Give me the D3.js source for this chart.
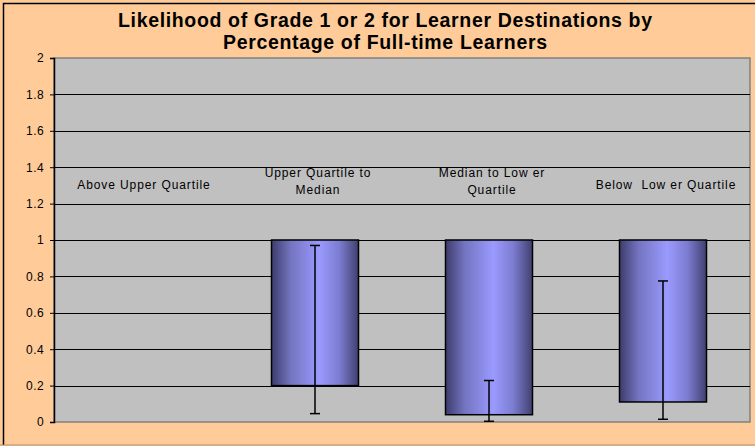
<!DOCTYPE html>
<html>
<head>
<meta charset="utf-8">
<script src="https://cdn.jsdelivr.net/npm/d3@7"></script>
<style>
  body { margin: 0; background: #fff; }
  svg { display: block; font-family: "Liberation Sans", Arial, sans-serif; }
</style>
</head>
<body>
<div id="chart"></div>
<script>
// chart values
var categories = ["Above Upper Quartile", "Upper Quartile to Median", "Median to Lower Quartile", "Below Lower Quartile"];
var labelLines = [["Above Upper Quartile"], ["Upper Quartile to", "Median"], ["Median to Low er", "Quartile"], ["Below  Low er Quartile"]];
var barLow = [null, 0.2, 0.04, 0.11];
var barHigh = [null, 1, 1, 1];
var errLow = [null, 0.046, 0.004, 0.015];
var errHigh = [null, 0.97, 0.228, 0.775];
var yTicks = [0, 0.2, 0.4, 0.6, 0.8, 1, 1.2, 1.4, 1.6, 1.8, 2];
var titleLines = ["Likelihood of Grade 1 or 2 for Learner Destinations by", "Percentage of Full-time Learners"];

var w = 755, h = 446;
var plotL = 54, plotR = 750, plotT = 58, plotB = 422;

var svg = d3.select("#chart").append("svg")
    .attr("width", w)
    .attr("height", h);

// background + frame
svg.append("rect")
    .attr("x", 0).attr("y", 0)
    .attr("width", w).attr("height", h)
    .attr("fill", "#ffcc99");
svg.append("path")
    .attr("d", "M3.5," + (h - 1) + "V3.5H" + w)
    .attr("fill", "none")
    .attr("stroke", "#000")
    .attr("stroke-width", 1.5);
svg.append("line")
    .attr("x1", 0).attr("x2", w)
    .attr("y1", h - 1).attr("y2", h - 1)
    .attr("stroke", "#b09070");

var x = d3.scaleBand()
    .domain(categories)
    .range([plotL, plotR])
    .paddingInner(0)
    .paddingOuter(0);

var y = d3.scaleLinear()
    .domain([0, 2])
    .range([plotB, plotT]);

// plot area
svg.append("rect")
    .attr("x", plotL).attr("y", plotT)
    .attr("width", plotR - plotL).attr("height", plotB - plotT)
    .attr("fill", "#c0c0c0")
    .attr("stroke", "#808080")
    .attr("stroke-width", 1.5);

// gridlines
svg.append("g")
    .selectAll("line")
    .data(yTicks.filter(function (d) { return d > 0 && d < 2; }))
    .enter()
    .append("line")
    .attr("x1", plotL).attr("x2", plotR)
    .attr("y1", function (d) { return Math.round(y(d)) + 0.5; })
    .attr("y2", function (d) { return Math.round(y(d)) + 0.5; })
    .attr("stroke", "#000")
    .attr("stroke-width", 1);

// y axis
var yAxis = svg.append("g")
    .attr("transform", "translate(" + plotL + ",0)")
    .call(d3.axisLeft(y).tickValues(yTicks).tickSize(4).tickPadding(6)
        .tickFormat(function (d) { return String(d); }));
yAxis.select(".domain").attr("stroke", "#000").attr("stroke-width", 1.5);
yAxis.selectAll(".tick line").attr("stroke", "#000");
yAxis.selectAll(".tick text")
    .attr("font-size", "12px")
    .attr("letter-spacing", "0.4px")
    .attr("fill", "#000")
    .attr("font-family", "Liberation Sans, Arial, sans-serif");

// bar gradient
var defs = svg.append("defs");
var grad = defs.append("linearGradient")
    .attr("id", "barGrad")
    .attr("x1", "0%").attr("x2", "100%")
    .attr("y1", "0%").attr("y2", "0%");
grad.append("stop").attr("offset", "0%").attr("stop-color", "#3c3c6c");
grad.append("stop").attr("offset", "22%").attr("stop-color", "#7474c0");
grad.append("stop").attr("offset", "55%").attr("stop-color", "#9a9aff");
grad.append("stop").attr("offset", "78%").attr("stop-color", "#7c7cd0");
grad.append("stop").attr("offset", "100%").attr("stop-color", "#404070");

var rows = categories.map(function (c, i) {
    return { cat: c, lo: barLow[i], hi: barHigh[i], el: errLow[i], eh: errHigh[i] };
});
var bw = x.bandwidth() / 2;

svg.append("g")
    .selectAll("rect")
    .data(rows.filter(function (d) { return d.lo !== null; }))
    .enter()
    .append("rect")
    .attr("x", function (d) { return x(d.cat) + x.bandwidth() / 2 - bw / 2; })
    .attr("y", function (d) { return y(d.hi); })
    .attr("width", bw)
    .attr("height", function (d) { return y(d.lo) - y(d.hi); })
    .attr("fill", "url(#barGrad)")
    .attr("stroke", "#000")
    .attr("stroke-width", 1.5);

// error bars
var eb = svg.append("g")
    .selectAll("g")
    .data(rows.filter(function (d) { return d.el !== null; }))
    .enter()
    .append("g")
    .attr("stroke", "#000")
    .attr("stroke-width", 1.5);
eb.append("line")
    .attr("x1", function (d) { return x(d.cat) + x.bandwidth() / 2; })
    .attr("x2", function (d) { return x(d.cat) + x.bandwidth() / 2; })
    .attr("y1", function (d) { return y(d.eh); })
    .attr("y2", function (d) { return y(d.el); });
eb.append("line")
    .attr("x1", function (d) { return x(d.cat) + x.bandwidth() / 2 - 5; })
    .attr("x2", function (d) { return x(d.cat) + x.bandwidth() / 2 + 5; })
    .attr("y1", function (d) { return y(d.eh); })
    .attr("y2", function (d) { return y(d.eh); });
eb.append("line")
    .attr("x1", function (d) { return x(d.cat) + x.bandwidth() / 2 - 5; })
    .attr("x2", function (d) { return x(d.cat) + x.bandwidth() / 2 + 5; })
    .attr("y1", function (d) { return y(d.el); })
    .attr("y2", function (d) { return y(d.el); });

// category labels (sit inside the plot)
var lab = svg.append("g")
    .selectAll("text")
    .data(categories)
    .enter()
    .append("text")
    .attr("text-anchor", "middle")
    .attr("font-size", "12px")
    .attr("letter-spacing", "0.9px")
    .style("white-space", "pre")
    .attr("fill", "#000")
    .attr("y", function (d, i) { return labelLines[i].length > 1 ? 177 : 189; });
lab.each(function (d, i) {
    var t = d3.select(this);
    labelLines[i].forEach(function (s, j) {
        t.append("tspan")
            .attr("x", x(d) + x.bandwidth() / 2 + 3)
            .attr("dy", j === 0 ? 0 : 17)
            .text(s);
    });
});

// title
var titleW = [534, 324];
svg.append("g")
    .selectAll("text")
    .data(titleLines)
    .enter()
    .append("text")
    .attr("x", 385)
    .attr("y", function (d, i) { return 27 + i * 22; })
    .attr("text-anchor", "middle")
    .attr("font-size", "19.5px")
    .attr("font-weight", "bold")
    .attr("textLength", function (d, i) { return titleW[i]; })
    .attr("lengthAdjust", "spacing")
    .attr("fill", "#000")
    .text(function (d) { return d; });
</script>
</body>
</html>
